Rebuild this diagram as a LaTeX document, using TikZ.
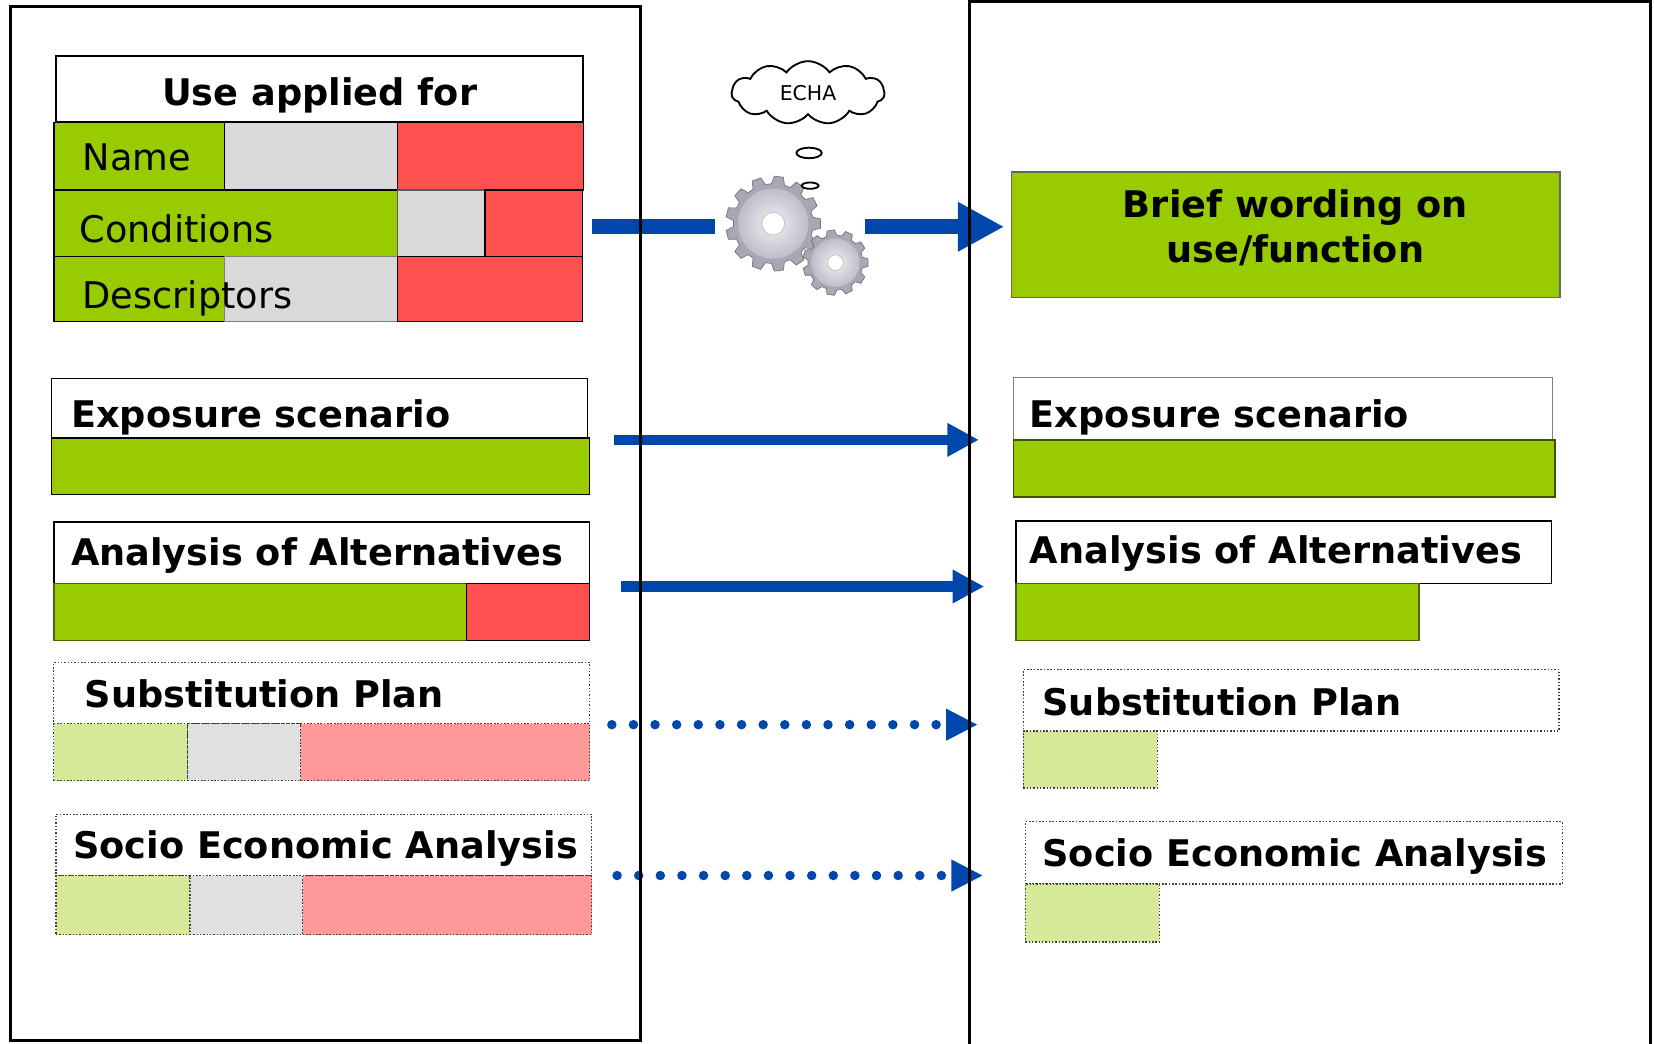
\documentclass[tikz,border=0pt]{standalone}
\usepackage{fontspec}
\setmainfont{DejaVu Sans}
\usetikzlibrary{arrows.meta,shapes.symbols}

\definecolor{leafgreen}{HTML}{99CC00}
\definecolor{alarmred}{HTML}{FF5050}
\definecolor{cellgray}{HTML}{D9D9D9}
\definecolor{palegreen}{HTML}{D6E999}
\definecolor{palered}{HTML}{FF9999}
\definecolor{palegray}{HTML}{E0E0E0}
\definecolor{flowblue}{HTML}{0047AB}
\definecolor{gearrim}{HTML}{A8A8B4}
\definecolor{gearface}{HTML}{BEBECB}
\definecolor{gearlight}{HTML}{F0F0F5}

\newcommand*\pxu{0.02cm}

% one cog: name, centre, outer radius, teeth
\newcommand\gearwheel[4]{%
  \begin{scope}[shift={#2}]
    \coordinate (#1) at (0,0);
    \pgfmathsetmacro\gstep{360/#4}
    \pgfmathsetmacro\grin{0.84*#3}
    \pgfmathtruncatemacro\glast{#4-1}
    \filldraw[fill=gearrim, draw=gearrim!70!black, line width=0.4pt]
      ({-0.2*\gstep}:#3) \foreach \k in {0,...,\glast}{
        -- ({(\k+0.2)*\gstep}:#3) -- ({(\k+0.34)*\gstep}:\grin)
        -- ({(\k+0.66)*\gstep}:\grin) -- ({(\k+0.8)*\gstep}:#3)} -- cycle;
    \shade[inner color=gearlight, outer color=gearface] (0,0) circle[radius={0.74*#3}];
    \filldraw[fill=white, draw=gray!50] (0,0) circle[radius={0.24*#3}];
  \end{scope}}

\tikzset{
  cell/.style={anchor=north west, inner sep=0pt, outer sep=0pt, draw=black, line width=0.8pt},
  sz/.style 2 args={minimum width=#1*\pxu, minimum height=#2*\pxu},
  dotcell/.style={cell, draw=gray!50!black, densely dotted, line width=0.7pt},
  hdr/.style={anchor=base west, inner sep=0pt, font=\bfseries\fontsize{19.8pt}{23.9pt}\selectfont},
  rowtxt/.style={anchor=base west, inner sep=0pt, font=\fontsize{19.8pt}{23.9pt}\selectfont},
  flowthick/.style={draw=flowblue, line width=14*\pxu},
  flow/.style={draw=flowblue, line width=10*\pxu, -{Triangle[length=0.6cm,width=0.6cm]}},
  dotflow/.style={draw=flowblue, line width=9*\pxu, line cap=round, dash pattern=on 0pt off 0.41cm,
    -{Triangle[length=0.6cm,width=0.56cm]}},
  frame/.style={draw=black, line width=1.7pt}
}

\begin{document}
\begin{tikzpicture}[x=0.02cm, y=-0.02cm]
  \useasboundingbox (0,0) rectangle (1568,989);

  % left: use applied for
  \node[cell, fill=white, line width=1.2pt, sz={500}{63}] (use) at (53,53) {};
  \node[cell, fill=leafgreen, sz={162}{64}] (name-g) at (51,116) {};
  \node[cell, fill=cellgray, sz={164}{64}] (name-s) at (213,116) {};
  \node[cell, fill=alarmred, sz={176}{64}] (name-r) at (377,116) {};
  \node[cell, fill=leafgreen, sz={326}{63}] (cond-g) at (51,180) {};
  \node[cell, fill=cellgray, draw=gray!70!black, sz={83}{63}] (cond-s) at (377,180) {};
  \node[cell, fill=alarmred, sz={92}{63}] (cond-r) at (460,180) {};
  \node[cell, fill=leafgreen, sz={162}{62}] (desc-g) at (51,243) {};
  \node[cell, fill=cellgray, draw=gray, sz={164}{62}] (desc-s) at (213,243) {};
  \node[cell, fill=alarmred, sz={175}{62}] (desc-r) at (377,243) {};
  \node[hdr, anchor=base] (use-t) at (303,100) {Use applied for};
  \node[rowtxt] (name-t) at (78,162) {Name};
  \node[rowtxt] (cond-t) at (75,230) {Conditions};
  \node[rowtxt] (desc-t) at (78,292) {Descriptors};

  % left: the other parts
  \node[cell, fill=white, sz={508}{56}] (esL-h) at (49,359) {};
  \node[cell, fill=leafgreen, sz={510}{54}] (esL-b) at (49,415) {};
  \node[cell, fill=white, sz={508}{58}] (aaL-h) at (51,495) {};
  \node[cell, fill=leafgreen, draw=leafgreen!50!black, sz={391}{54}] (aaL-g) at (51,553) {};
  \node[cell, fill=alarmred, sz={117}{54}] (aaL-r) at (442,553) {};
  \node[dotcell, fill=white, sz={508}{58}] (spL-h) at (51,628) {};
  \node[dotcell, fill=palegreen, sz={127}{54}] (spL-g) at (51,686) {};
  \node[dotcell, fill=palegray, sz={107}{54}] (spL-s) at (178,686) {};
  \node[dotcell, fill=palered, sz={274}{54}] (spL-r) at (285,686) {};
  \node[dotcell, fill=white, sz={508}{58}] (seL-h) at (53,772) {};
  \node[dotcell, fill=palegreen, sz={127}{56}] (seL-g) at (53,830) {};
  \node[dotcell, fill=palegray, sz={107}{56}] (seL-s) at (180,830) {};
  \node[dotcell, fill=palered, sz={274}{56}] (seL-r) at (287,830) {};
  \node[hdr] (esL-t) at (67,405) {Exposure scenario};
  \node[hdr] (aaL-t) at (67,536) {Analysis of Alternatives};
  \node[hdr] (spL-t) at (80,671) {Substitution Plan};
  \node[hdr] (seL-t) at (69,814) {Socio Economic Analysis};

  % right side
  \node[cell, fill=leafgreen, draw=gray!80!black, sz={520}{119}] (brief) at (959,163) {};
  \node[align=center, inner sep=0pt, font=\bfseries\fontsize{19.8pt}{23.9pt}\selectfont]
    (brief-t) at (1228,216) {Brief wording on\\use/function};
  \node[cell, fill=white, draw=gray, sz={511}{59}] (esR-h) at (961,358) {};
  \node[cell, fill=leafgreen, draw=leafgreen!40!black, sz={513}{54}] (esR-b) at (961,417) {};
  \node[cell, fill=white, sz={508}{59}] (aaR-h) at (963,494) {};
  \node[cell, fill=leafgreen, draw=leafgreen!50!black, sz={382}{54}] (aaR-g) at (963,553) {};
  \node[dotcell, fill=white, sz={508}{58}] (spR-h) at (970,635) {};
  \node[dotcell, fill=palegreen, sz={127}{54}] (spR-g) at (970,693) {};
  \node[dotcell, fill=white, sz={509}{59}] (seR-h) at (972,779) {};
  \node[dotcell, fill=palegreen, sz={127}{55}] (seR-g) at (972,838) {};
  \node[hdr] (esR-t) at (976,405) {Exposure scenario};
  \node[hdr] (aaR-t) at (976,534) {Analysis of Alternatives};
  \node[hdr] (spR-t) at (988,678) {Substitution Plan};
  \node[hdr] (seR-t) at (988,821) {Socio Economic Analysis};

  % arrow ends
  \coordinate (use-out) at (561,215);
  \coordinate (gear-in) at (678,215);
  \coordinate (gear-out) at (820,215);
  \coordinate (brief-in) at (952,215);
  \coordinate (es-out) at (582,417);
  \coordinate (es-in) at (928,417);
  \coordinate (aa-out) at (589,556);
  \coordinate (aa-in) at (933,556);
  \coordinate (sp-out) at (580,687);
  \coordinate (sp-in) at (927,687);
  \coordinate (se-out) at (585,830);
  \coordinate (se-in) at (932,830);

  \draw[flowthick] (use-out) -- (gear-in);
  \draw[flowthick, -{Triangle[length=0.88cm,width=0.88cm]}] (gear-out) -- (brief-in);
  \draw[flow] (es-out) -- (es-in);
  \draw[flow] (aa-out) -- (aa-in);
  \draw[dotflow] (sp-out) -- (sp-in);
  \draw[dotflow] (se-out) -- (se-in);

  % ECHA thinking
  \gearwheel{cog-big}{(733,212)}{45}{13}
  \gearwheel{cog-small}{(792,249)}{31}{11}
  \node[cloud, draw, line width=1pt, cloud puffs=11, cloud puff arc=110, aspect=2.4, inner sep=0pt,
    minimum width=145*\pxu, minimum height=60*\pxu,
    font=\fontsize{11pt}{13pt}\selectfont] (echa) at (766,88) {ECHA};
  \draw[line width=1pt] (767,145) ellipse [x radius=12, y radius=5];
  \draw[line width=1pt] (768,176) ellipse [x radius=8, y radius=3];

  % frames
  \draw[frame] (10,6) rectangle (607,986);
  \draw[frame] (919,995) -- (919,1.5) -- (1565,1.5) -- (1565,995);
\end{tikzpicture}
\end{document}
